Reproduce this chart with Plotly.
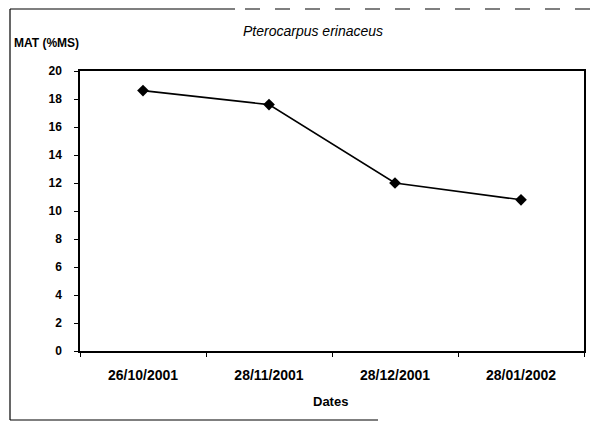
import plotly.graph_objects as go

dates = ["26/10/2001", "28/11/2001", "28/12/2001", "28/01/2002"]
mat_values = [18.6, 17.6, 12.0, 10.8]
y_ticks = [0, 2, 4, 6, 8, 10, 12, 14, 16, 18, 20]

# page has an 8px body margin; plot area in window pixels: x 80..584, y 71..351
OFF = 8
WIN_W, WIN_H = 611, 423
PL, PR, PT, PB = 80, 584, 71, 351
W, H = WIN_W - OFF, WIN_H - OFF
L, T = PL - OFF, PT - OFF
R, B = W - (PR - OFF), H - (PB - OFF)
pw, ph = PR - PL, PB - PT

def px(x):
    return (x - PL) / pw

def py(y):
    return (PB - y) / ph

fig = go.Figure()
fig.add_trace(go.Scatter(
    x=dates, y=mat_values, mode="lines+markers",
    line=dict(color="black", width=1.6),
    marker=dict(symbol="diamond", size=9, color="black"),
    showlegend=False,
))

font_family = "Arial, Liberation Sans, sans-serif"

fig.update_layout(
    width=W, height=H,
    margin=dict(l=L, r=R, t=T, b=B),
    paper_bgcolor="white", plot_bgcolor="white",
    font=dict(family=font_family, color="black"),
    xaxis=dict(
        type="category", range=[-0.5, 3.5],
        showline=True, mirror=True, linecolor="black", linewidth=1.5,
        ticks="outside", tickson="boundaries", ticklen=4, tickcolor="black",
        showgrid=False, zeroline=False,
        tickfont=dict(size=14, weight="bold", family=font_family),
        ticklabelstandoff=10,
    ),
    yaxis=dict(
        range=[0, 20], tickvals=y_ticks,
        showline=True, mirror=True, linecolor="black", linewidth=1.5,
        ticks="outside", ticklen=4, tickcolor="black",
        showgrid=False, zeroline=False,
        tickfont=dict(size=12, weight="bold", family=font_family),
        ticklabelstandoff=10,
    ),
    annotations=[
        dict(text="MAT (%MS)", x=px(12), y=py(43), xref="paper", yref="paper",
             xanchor="left", yanchor="middle", showarrow=False,
             font=dict(size=12, weight="bold")),
        dict(text="Pterocarpus erinaceus", x=px(313), y=py(31), xref="paper", yref="paper",
             xanchor="center", yanchor="middle", showarrow=False,
             font=dict(size=14, style="italic")),
        dict(text="Dates", x=px(330), y=py(401), xref="paper", yref="paper",
             xanchor="center", yanchor="middle", showarrow=False,
             font=dict(size=13, weight="bold")),
    ],
    shapes=[
        dict(type="line", xref="paper", yref="paper", x0=px(10), x1=px(10), y0=py(9), y1=py(420),
             line=dict(color="black", width=1.2)),
        dict(type="line", xref="paper", yref="paper", x0=px(10), x1=px(235), y0=py(9), y1=py(9),
             line=dict(color="black", width=1.2)),
        dict(type="line", xref="paper", yref="paper", x0=px(245), x1=px(611), y0=py(9), y1=py(9),
             line=dict(color="black", width=1.2, dash="longdash")),
        dict(type="line", xref="paper", yref="paper", x0=px(10), x1=px(378), y0=py(420), y1=py(420),
             line=dict(color="black", width=1.2)),
    ],
)

fig.write_html("out.html")
